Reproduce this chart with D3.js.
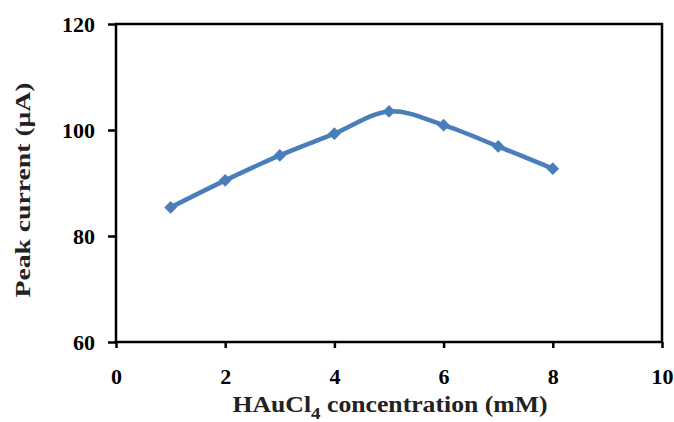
<!DOCTYPE html>
<html>
<head>
<meta charset="utf-8">
<script src="https://cdn.jsdelivr.net/npm/d3@7"></script>
<style>
  body { margin: 0; background: #fff; }
  text { font-family: "Liberation Serif", "Times New Roman", serif; font-weight: bold; }
</style>
</head>
<body>
<svg id="graph" width="674" height="422"></svg>
<script>
var concentration = [1, 2, 3, 4, 5, 6, 7, 8];
var peakCurrent = [85.4, 90.5, 95.2, 99.3, 103.5, 100.9, 96.9, 92.7];
var xTicks = [0, 2, 4, 6, 8, 10];
var yTicks = [60, 80, 100, 120];

var width = 674, height = 422;
var margin = { top: 24, right: 12, bottom: 80, left: 116 };
var svg = d3.select("#graph");

var x = d3.scaleLinear().domain([0, 10]).range([margin.left, width - margin.right]);
var y = d3.scaleLinear().domain([60, 120]).range([height - margin.bottom, margin.top]);

// box around plot
svg.append("rect")
    .attr("x", x(0)).attr("y", y(120))
    .attr("width", x(10) - x(0)).attr("height", y(60) - y(120))
    .attr("fill", "none").attr("stroke", "#000").attr("stroke-width", 2.5);

svg.append("g")
    .attr("transform", `translate(0,${y(60)})`)
    .call(d3.axisBottom(x).tickValues(xTicks).tickSize(6).tickPadding(20))
    .call(g => g.select(".domain").remove())
    .call(g => g.selectAll("line").attr("stroke-width", 2.5))
    .call(g => g.selectAll("text").attr("font-size", 22).attr("fill", "#000"));

svg.append("g")
    .attr("transform", `translate(${x(0)},0)`)
    .call(d3.axisLeft(y).tickValues(yTicks).tickSize(8).tickPadding(13))
    .call(g => g.select(".domain").remove())
    .call(g => g.selectAll("line").attr("stroke-width", 2.5))
    .call(g => g.selectAll("text").attr("font-size", 22).attr("fill", "#000"));

var pts = concentration.map((c, i) => [c, peakCurrent[i]]);

// smoothed line like the spreadsheet original
var line = d3.line()
    .x(d => x(d[0]))
    .y(d => y(d[1]))
    .curve(d3.curveCardinal.tension(0));

svg.append("path")
    .datum(pts)
    .attr("d", line)
    .attr("fill", "none")
    .attr("stroke", "#4a7ebb")
    .attr("stroke-width", 4.5);

svg.append("g").selectAll("path")
    .data(pts)
    .join("path")
    .attr("transform", d => `translate(${x(d[0])},${y(d[1])}) rotate(45)`)
    .attr("d", "M-4.5,-4.5H4.5V4.5H-4.5Z")
    .attr("fill", "#4a7ebb");

// axis titles
var xt = svg.append("text")
    .attr("x", 390)
    .attr("y", 412)
    .attr("text-anchor", "middle")
    .attr("font-size", 23)
    .attr("textLength", 315)
    .attr("lengthAdjust", "spacingAndGlyphs")
    .attr("fill", "#222");
xt.append("tspan").text("HAuCl");
xt.append("tspan").attr("dy", 7).attr("font-size", 17).text("4");
xt.append("tspan").attr("dy", -7).text(" concentration (mM)");

svg.append("text")
    .attr("transform", `translate(30,190) rotate(-90)`)
    .attr("text-anchor", "middle")
    .attr("font-size", 21)
    .attr("textLength", 215)
    .attr("lengthAdjust", "spacingAndGlyphs")
    .attr("fill", "#222")
    .text("Peak current (μA)");
</script>
</body>
</html>
